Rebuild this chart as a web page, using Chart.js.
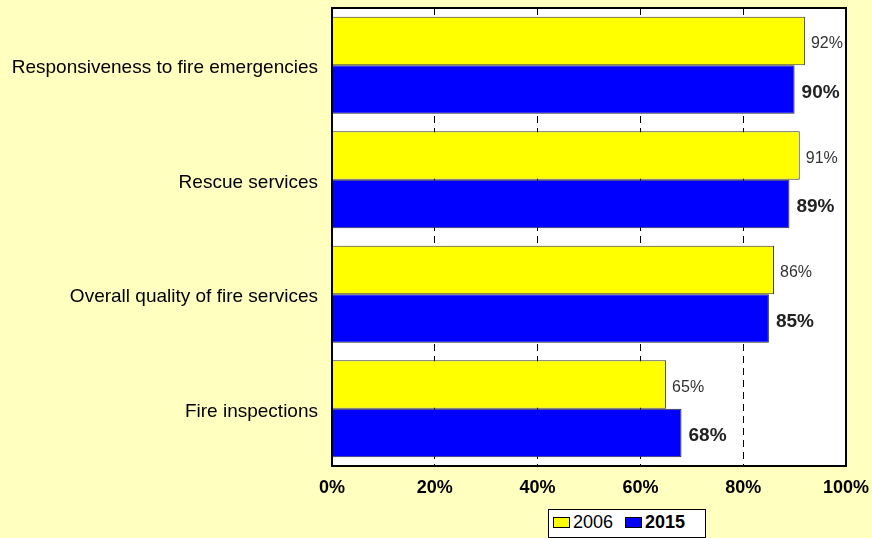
<!DOCTYPE html>
<html>
<head>
<meta charset="utf-8">
<script src="https://cdn.jsdelivr.net/npm/chart.js@4.4.1/dist/chart.umd.min.js"></script>
<style>
  html, body { margin: 0; padding: 0; background: #ffffc0; }
  #wrap { position: relative; width: 872px; height: 538px; overflow: hidden; }
  #legend {
    position: absolute; left: 548px; top: 509px; width: 158px; height: 29px;
    background: #fff; border: 1px solid #000; box-sizing: border-box;
    font-family: "Liberation Sans", Arial, sans-serif; font-size: 18px; color: #000;
    display: flex; align-items: center; padding-left: 4px; padding-bottom: 3px;
  }
  #legend .sw { display: inline-block; width: 15px; height: 9px; border: 1px solid #000; margin-right: 3px; }
  #legend .item { display: flex; align-items: center; margin-right: 12px; }
</style>
</head>
<body>
<div id="wrap">
  <canvas id="satChart" width="872" height="538"></canvas>
  <div id="legend">
    <span class="item"><span class="sw" style="background:#ffff00"></span>2006</span>
    <span class="item" style="font-weight:bold"><span class="sw" style="background:#0000ff"></span>2015</span>
  </div>
</div>
<script>
const categories = [
  "Responsiveness to fire emergencies",
  "Rescue services",
  "Overall quality of fire services",
  "Fire inspections"
];
const values2006 = [92, 91, 86, 65];
const values2015 = [90, 89, 85, 68];
const xTicks = [0, 20, 40, 60, 80, 100];

// white plot area and black frame around it
const plotFrame = {
  id: "plotFrame",
  beforeDraw(chart) {
    const { ctx, chartArea: a } = chart;
    ctx.save();
    ctx.fillStyle = "#ffffff";
    ctx.fillRect(a.left, a.top, a.right - a.left, a.bottom - a.top);
    ctx.restore();
  },
  afterDraw(chart) {
    const { ctx, chartArea: a } = chart;
    ctx.save();
    ctx.strokeStyle = "#000";
    ctx.lineWidth = 2;
    ctx.strokeRect(a.left, a.top, a.right - a.left, a.bottom - a.top);
    ctx.restore();
  }
};

// percentage labels at bar ends
const barLabels = {
  id: "barLabels",
  afterDatasetsDraw(chart) {
    const { ctx } = chart;
    ctx.save();
    ctx.textBaseline = "middle";
    ctx.textAlign = "left";
    chart.data.datasets.forEach((ds, i) => {
      const meta = chart.getDatasetMeta(i);
      meta.data.forEach((bar, j) => {
        if (i === 0) {
          ctx.font = "16px 'Liberation Sans', Arial, sans-serif";
          ctx.fillStyle = "#333";
          ctx.fillText(ds.data[j] + "%", bar.x + 6, bar.y + 3);
        } else {
          ctx.font = "bold 19px 'Liberation Sans', Arial, sans-serif";
          ctx.fillStyle = "#222";
          ctx.fillText(ds.data[j] + "%", bar.x + 7, bar.y + 3);
        }
      });
    });
    ctx.restore();
  }
};

new Chart(document.getElementById("satChart").getContext("2d"), {
  type: "bar",
  data: {
    labels: categories,
    datasets: [
      { label: "2006", data: values2006, backgroundColor: "#ffff00", borderColor: "#333", borderWidth: 1 },
      { label: "2015", data: values2015, backgroundColor: "#0000ff", borderColor: "#333", borderWidth: 1 }
    ]
  },
  options: {
    indexAxis: "y",
    responsive: false,
    animation: false,
    layout: { padding: { top: 8, right: 26, bottom: 0, left: 0 } },
    datasets: { bar: { categoryPercentage: 0.848, barPercentage: 1.0 } },
    plugins: { legend: { display: false }, tooltip: { enabled: false } },
    scales: {
      x: {
        min: 0,
        max: 100,
        afterBuildTicks(scale) { scale.ticks = xTicks.map(v => ({ value: v })); },
        afterFit(scale) {
          scale.height = 72;
          scale.paddingLeft = 0;
          scale.paddingRight = 0;
        },
        grid: {
          color: ctx => (ctx.tick && (ctx.tick.value === 0 || ctx.tick.value === 100)) ? "rgba(0,0,0,0)" : "#000",
          lineWidth: 1,
          drawTicks: false
        },
        border: { display: false, dash: [7, 5] },
        ticks: {
          padding: 11,
          color: "#000",
          font: { family: "'Liberation Sans', Arial, sans-serif", size: 18, weight: "bold" },
          callback: v => v + "%",
          maxRotation: 0
        }
      },
      y: {
        afterFit(scale) {
          scale.width = 332;
          scale.paddingTop = 0;
          scale.paddingBottom = 0;
        },
        grid: { display: false, drawTicks: false },
        border: { display: false },
        ticks: {
          padding: 14,
          labelOffset: 3,
          color: "#000",
          font: { family: "'Liberation Sans', Arial, sans-serif", size: 19 }
        }
      }
    }
  },
  plugins: [plotFrame, barLabels]
});
</script>
</body>
</html>
